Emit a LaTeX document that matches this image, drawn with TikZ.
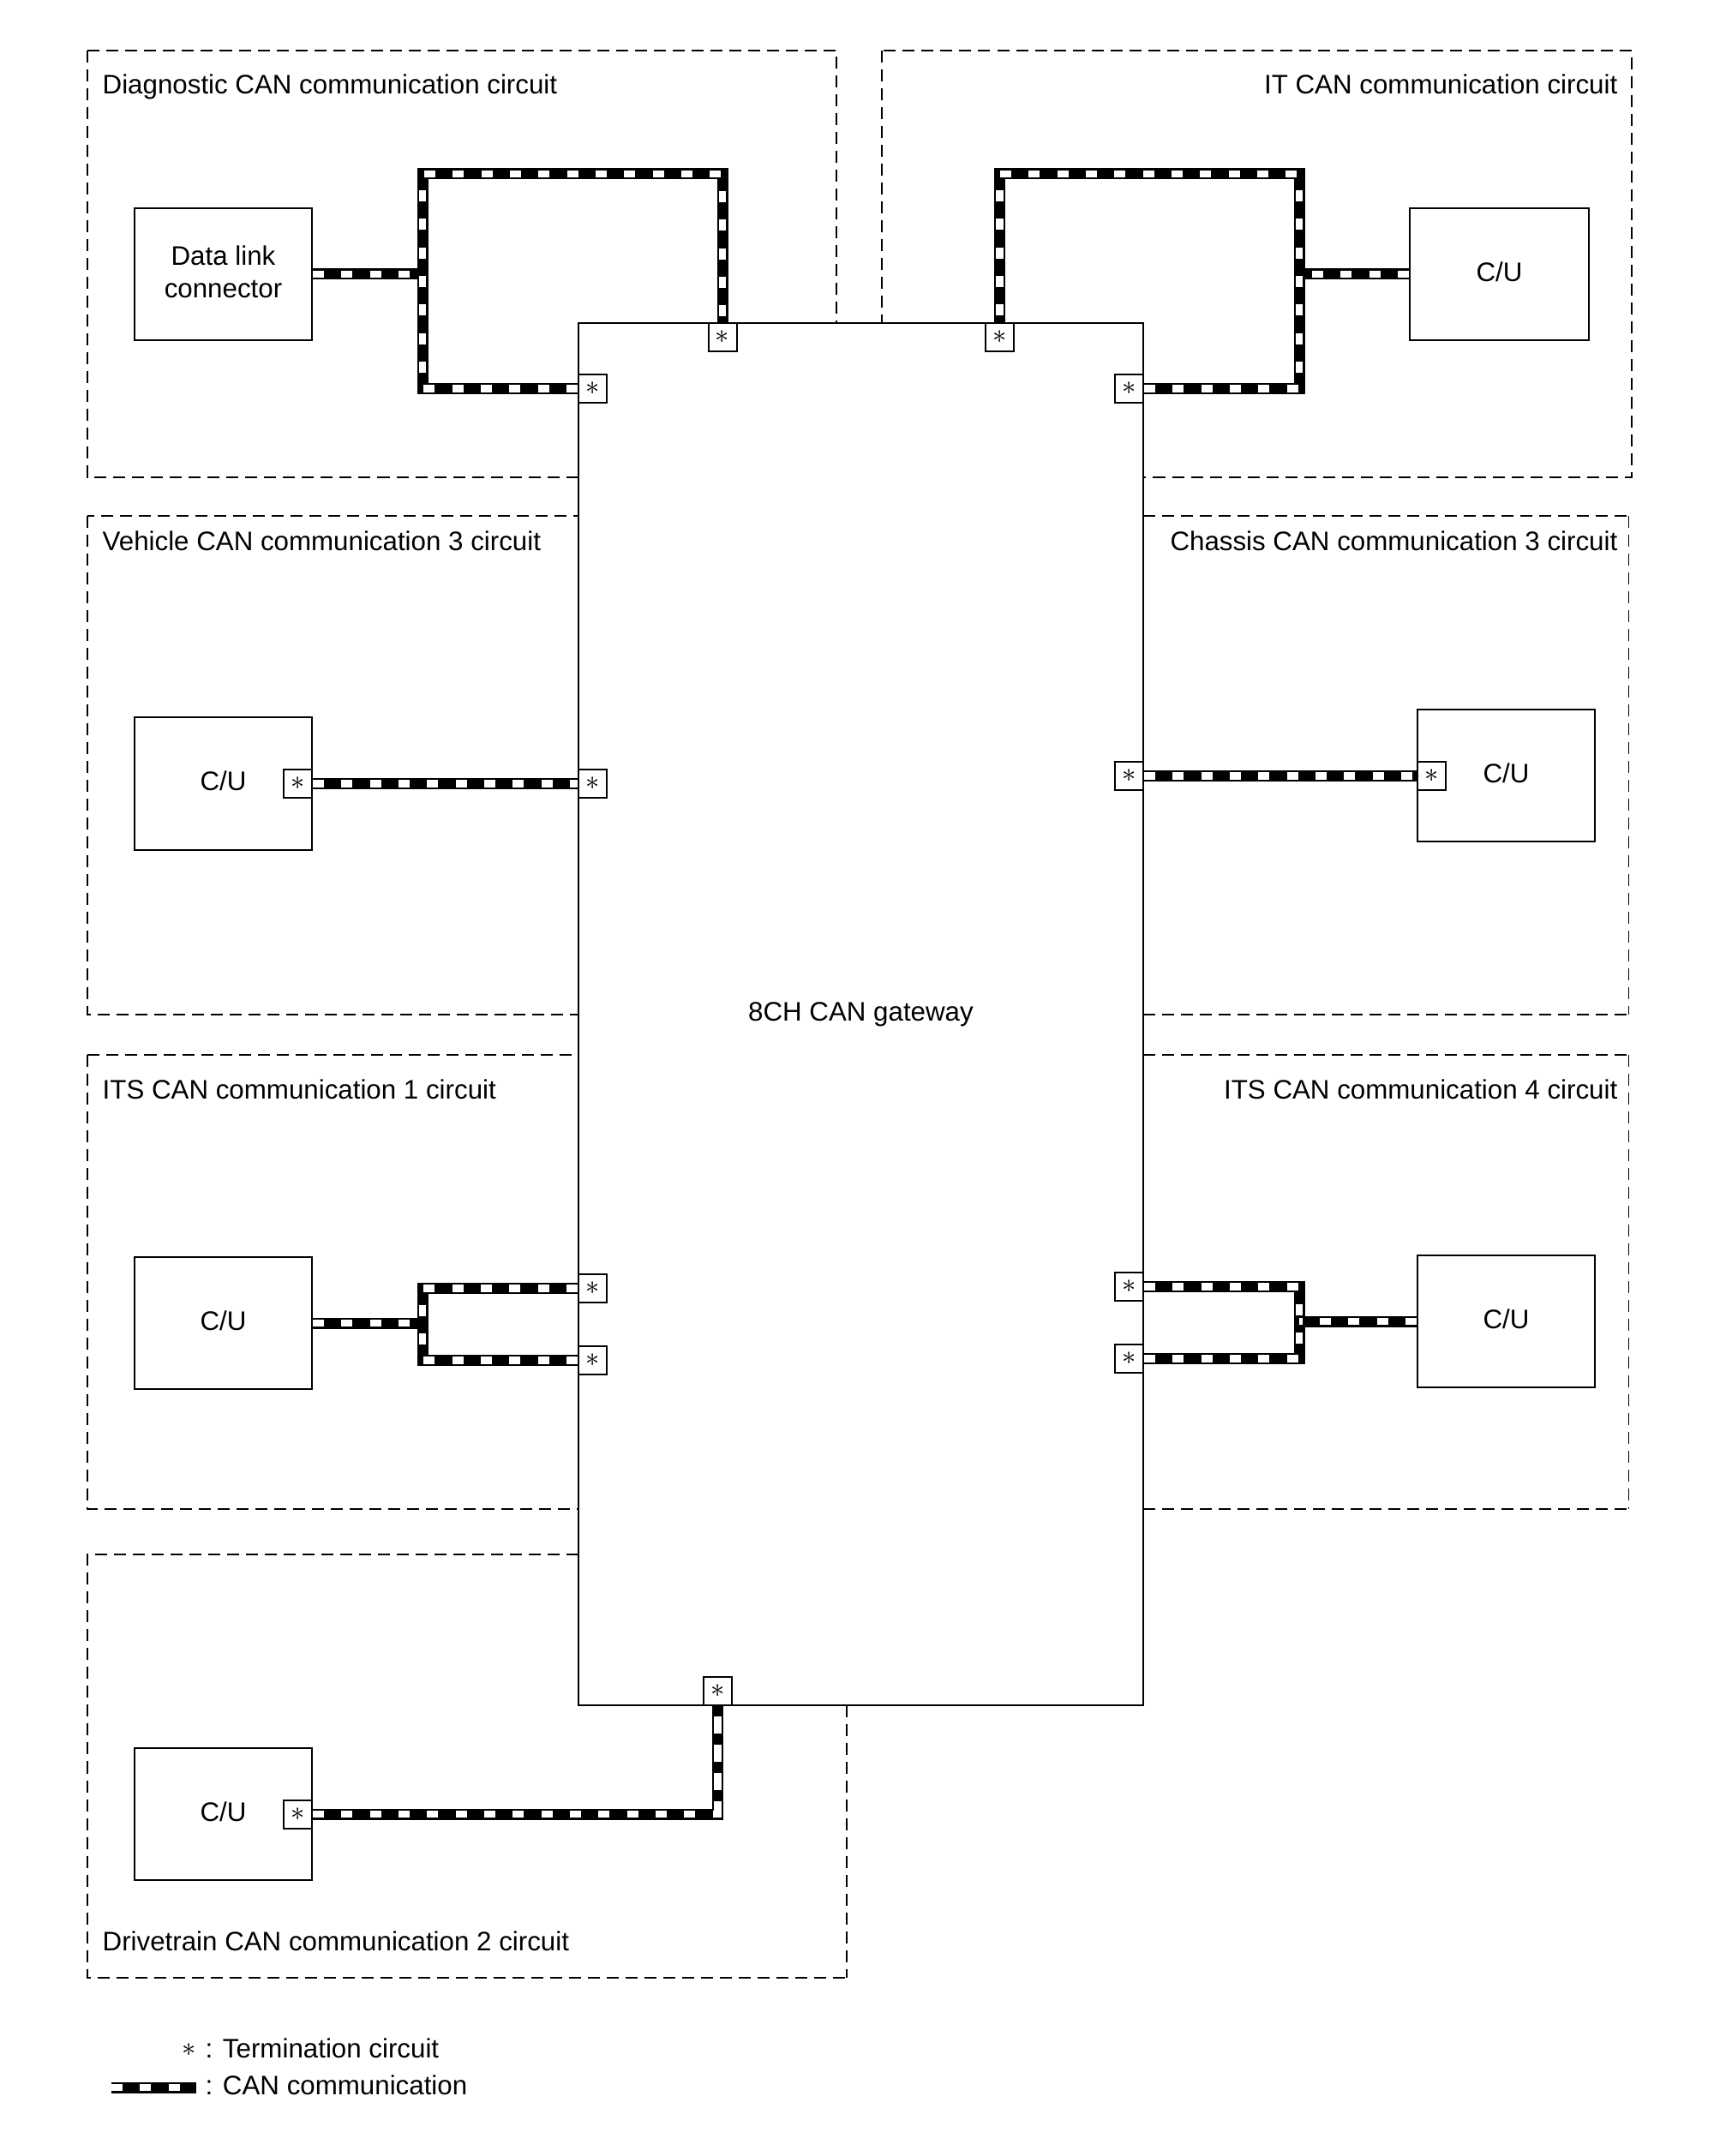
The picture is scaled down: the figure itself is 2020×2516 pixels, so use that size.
\documentclass[tikz,border=0pt]{standalone}
\usepackage{fontspec}
\setmainfont{Liberation Sans}
\tikzset{
  frame/.style={draw,line width=0.45pt,dash pattern=on 0.14cm off 0.08cm},
  frameside/.style={draw,line width=0.3pt,dash pattern=on 0.14cm off 0.08cm},
  gatebox/.style={draw,fill=white,line width=0.57pt,inner sep=0pt,minimum width=6.59cm,minimum height=16.13cm},
  cubox/.style={draw,fill=white,line width=0.57pt,inner sep=0pt,align=center,text depth=0.06cm,minimum width=2.07cm,minimum height=1.54cm},
  port/.style={draw,fill=white,line width=0.57pt,inner sep=0pt,minimum size=0.33cm},
  lbl/.style={inner sep=0pt},
  canline/.style={line width=0.13cm},
  canwhite/.style={draw=white,line width=0.088cm,dash pattern=on 0.13cm off 0.203cm}
}
\begin{document}
\begin{tikzpicture}
  [x=0.01cm,y=-0.01cm,font=\fontsize{8.9}{10.8}\selectfont]
  \useasboundingbox (0,0) rectangle (2020,2516);

  \draw[frame] (102,59) rectangle (976,557);
  \draw[frame] (1029,59) rectangle (1904,557);
  \draw[frame] (102,602) rectangle (900,1184);
  \draw[frame] (102,1231) rectangle (900,1761);
  \foreach \y in {602,1184,1231,1761}
    \draw[frame] (1334,\y) -- (1900,\y);
  \foreach \a/\b in {602/1184,1231/1761}
    \draw[frameside] (1900,\a) -- (1900,\b);
  \draw[frame] (675,1814) -- (102,1814) -- (102,2308) -- (988,2308);
  \draw[frameside] (988,1990) -- (988,2308);

  \node[lbl,anchor=base west] (t1) at (119,110) {Diagnostic CAN communication circuit};
  \node[lbl,anchor=base east] (t2) at (1888,110) {IT CAN communication circuit};
  \node[lbl,anchor=base west] (t3) at (119,643) {Vehicle CAN communication 3 circuit};
  \node[lbl,anchor=base east] (t4) at (1888,643) {Chassis CAN communication 3 circuit};
  \node[lbl,anchor=base west] (t5) at (119,1282) {ITS CAN communication 1 circuit};
  \node[lbl,anchor=base east] (t6) at (1888,1282) {ITS CAN communication 4 circuit};
  \node[lbl,anchor=base west] (t7) at (119,2276) {Drivetrain CAN communication 2 circuit};

  \node[gatebox] (gw) at (1004.5,1183.5) {8CH CAN gateway};
  \node[cubox] (dlc) at (260.5,320) {Data link\\connector};
  \node[cubox,minimum width=2.09cm] (cuI) at (1749.5,320) {C/U};
  \node[cubox] (cuV) at (260.5,914.5) {C/U};
  \node[cubox] (cuC) at (1757.5,905) {C/U};
  \node[cubox] (cuT) at (260.5,1544) {C/U};
  \node[cubox] (cuF) at (1757.5,1542) {C/U};
  \node[cubox] (cuR) at (260.5,2117) {C/U};

  \foreach \name/\x/\y in {pDa/691.5/453.5,pDb/843/393.5,pIa/1166.5/393.5,pIb/1317.5/453.5,
      pVa/347.5/914.5,pVb/691.5/914.5,pCa/1317.5/905.5,pCb/1670.5/905.5,
      pTa/691.5/1503.5,pTb/691.5/1587.5,pFa/1317.5/1501.5,pFb/1317.5/1585.5,
      pRa/347.5/2117,pRb/837.5/1973.5}
    \node[port] (\name) at (\x,\y) {$\ast$};

  \foreach \name/\x/\y in {dTL/493/203,dJ/493/320,dLs/493/222,dLe/493/440,dTs/495/203,dTe/843/203,dRs/843/223,
      iTR/1516/203,iJ/1516/320,iTs/1167/203,iLs/1166.5/222,iRs/1516/222,iRe/1516/440,
      tJ/493/1544,tVs/493/1523,tVe/493/1575,
      sJ/1516/1542,sVs/1516/1522,sVe/1516/1572,
      rVs/837.5/2003,rVe/837.5/2121,legL/130/2436,legR/229/2436}
    \coordinate (\name) at (\x,\y);

  % black part of the bus
  \draw[canline] (pDa.west) -| (dTL) -| (pDb.north);
  \draw[canline] (pIa.north) |- (iTR) |- (pIb.east);
  \draw[canline] (pTa.west) -| (tJ) |- (pTb.west);
  \draw[canline] (pFa.east) -| (sJ) |- (pFb.east);
  \draw[canline] (pRa.east) -| (pRb.south);
  \foreach \from/\to in {dlc.east/dJ,cuI.west/iJ,pVa.east/pVb.west,pCa.east/pCb.west,cuT.east/tJ,cuF.west/sJ,legL/legR}
    \draw[canline] (\from) -- (\to);

  % white marks, one run per straight piece
  \foreach \from/\to in {dlc.east/dJ,dLs/dLe,dTs/dTe,dRs/pDb.north,
      cuI.west/iJ,iTs/iTR,iLs/pIa.north,iRs/iRe,
      pVa.east/pVb.west,pCa.east/pCb.west,
      cuT.east/tJ,tVs/tVe,cuF.west/sJ,sVs/sVe,legL/legR}
    \draw[canwhite] (\from) -- (\to);
  \draw[canwhite] (pDa.west) -- (pDa.west -| dTL);
  \draw[canwhite] (pIb.east) -- (pIb.east -| iTR);
  \draw[canwhite] (pTa.west) -- (pTa.west -| tJ);
  \draw[canwhite] (pTb.west) -- (pTb.west -| tJ);
  \draw[canwhite] (pFa.east) -- (pFa.east -| sJ);
  \draw[canwhite] (pFb.east) -- (pFb.east -| sJ);
  \draw[canwhite] (pRa.east) -- (pRa.east -| pRb.south);
  \draw[canwhite,dash pattern=on 0.2cm off 0.13cm] (rVs) -- (rVe);

  \node[lbl] (legS) at (221,2392) {$\ast$};
  \node[lbl,anchor=base west] (legT) at (239,2401) {: Termination circuit};
  \node[lbl,anchor=base west] (legC) at (239,2444) {: CAN communication};
\end{tikzpicture}
\end{document}
